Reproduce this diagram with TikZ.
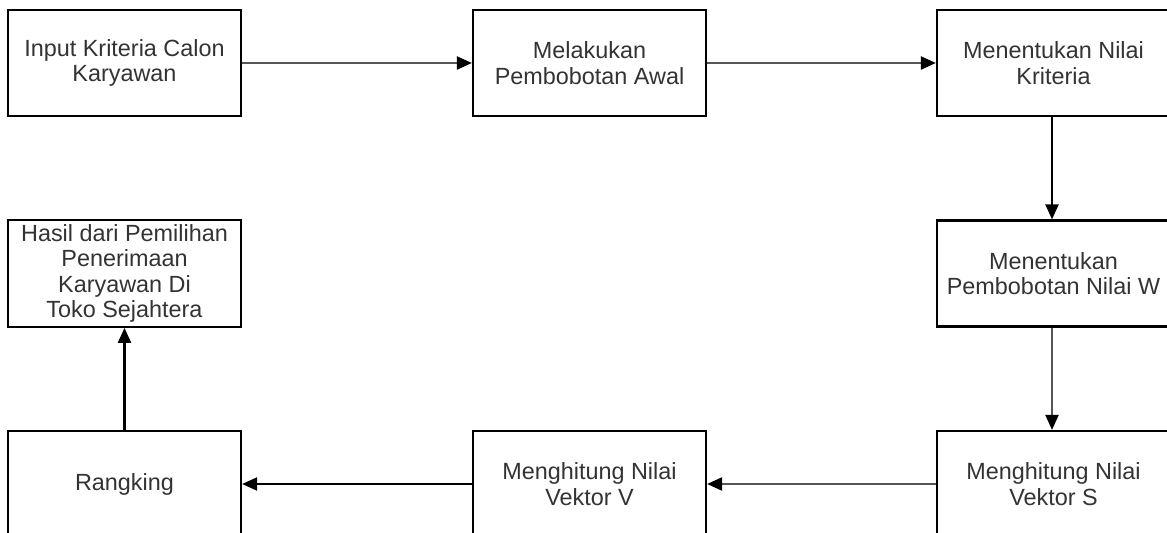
\documentclass[tikz,border=0pt]{standalone}
\usepackage{fontspec}
\setmainfont{Liberation Sans}
\usepackage{xcolor}
\usepackage{tikz}
\usetikzlibrary{arrows.meta,positioning}
\definecolor{flowline}{RGB}{85,85,85}
\definecolor{flowtext}{RGB}{51,51,51}

\begin{document}
\begin{tikzpicture}[x=0.5pt, y=-0.5pt,
    font=\fontsize{11.7}{12.8}\selectfont,
    stepbox/.style={draw=black, line width=1.1pt, fill=white, text=flowtext,
      minimum width=116.5pt, minimum height=53pt, inner sep=2pt, align=center},
    flow/.style={draw=flowline, line width=1.1pt, -{Triangle[length=7.5pt, width=6.5pt, color=black]}}]
    \path[use as bounding box, clip] (0,0) rectangle (1167,533);
    \fill[white] (0,0) rectangle (1167,533);
    % top row
    \node[stepbox] (input) at (124.5,63) {Input Kriteria Calon\\Karyawan};
    \node[stepbox] (awal) at (589.5,63) {Melakukan\\Pembobotan Awal};
    \node[stepbox] (kriteria) at (1053.5,63) {Menentukan Nilai\\Kriteria};
    % middle row
    \node[stepbox] (hasil) at (124.5,273.5) {Hasil dari Pemilihan\\Penerimaan\\Karyawan Di\\Toko Sejahtera};
    \node[stepbox] (bobotw) at (1053.5,273.5) {Menentukan\\Pembobotan Nilai W};
    % bottom row
    \node[stepbox] (rangking) at (124.5,484) {Rangking};
    \node[stepbox] (vektorv) at (589.5,484) {Menghitung Nilai\\Vektor V};
    \node[stepbox] (vektors) at (1053.5,484) {Menghitung Nilai\\Vektor S};
    % connectors
    \draw[flow] (input) -- (awal);
    \draw[flow] (awal) -- (kriteria);
    \draw[flow, draw=black] (kriteria.south -| 1052,0) -- (bobotw.north -| 1052,0);
    \draw[flow] (bobotw.south -| 1052,0) -- (vektors.north -| 1052,0);
    \draw[flow] (vektors) -- (vektorv);
    \draw[flow, draw=black] (vektorv) -- (rangking);
    \draw[flow, draw=black] (rangking) -- (hasil);
  \end{tikzpicture}
\end{document}
